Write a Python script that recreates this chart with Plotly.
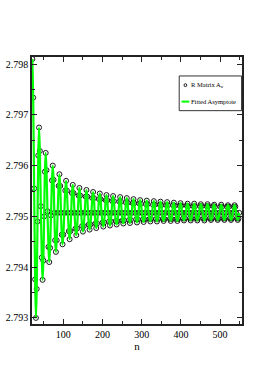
import plotly.graph_objects as go

# ---- data (8 samples per oscillation) ----
# peaks
peak_n = [21, 38, 55, 73, 90, 107, 124, 141, 159, 176, 193, 210, 227, 245, 262, 279,
          296, 313, 331, 348, 365, 382, 399, 417, 434, 451, 468, 485, 503, 520, 537]
peak_a = [2.7981, 2.79675, 2.79625, 2.7960, 2.79583, 2.7957, 2.79562, 2.79556, 2.79552,
          2.79548, 2.79545, 2.79542, 2.7954, 2.79538, 2.79536, 2.79534, 2.79532, 2.79531,
          2.7953, 2.79529, 2.79528, 2.79527, 2.79526, 2.79525, 2.79525, 2.79524, 2.79524,
          2.79523, 2.79523, 2.79522, 2.79522]
# upper shoulder on the way down
sd1_n = [23, 40, 57, 75, 92, 109, 126, 143, 161, 178, 195, 212, 229, 247, 264, 281,
         298, 315, 333, 350, 367, 384, 401, 419, 436, 453, 470, 487, 505, 522, 539]
sd1_a = [2.79734, 2.79629, 2.79591, 2.79572, 2.7956, 2.79551, 2.79546, 2.79541, 2.79539,
         2.79536, 2.79534, 2.79532, 2.7953, 2.79529, 2.79527, 2.79526, 2.79525, 2.79524,
         2.79523, 2.79522, 2.79522, 2.79521, 2.79521, 2.7952, 2.7952, 2.7952, 2.7952,
         2.79519, 2.79519, 2.79519, 2.79519]
# crossing on the way down
cd_n = [25.5, 42.5, 59.5, 77, 94, 111.5, 128.5, 145.5, 163, 180, 197.5, 214.5, 231.5, 249,
        266, 283.5, 300.5, 317.5, 335, 352, 369.5, 386.5, 403.5, 421, 438, 455.5, 472.5,
        489.5, 507, 524, 541]
cd_a = [2.79555, 2.7952, 2.7951, 2.79507, 2.79507, 2.79507, 2.79507, 2.79507, 2.79507,
        2.79507, 2.79507, 2.79507, 2.79507, 2.79507, 2.79507, 2.79507, 2.79507, 2.79507,
        2.79507, 2.79507, 2.79507, 2.79507, 2.79507, 2.79507, 2.79507, 2.79507, 2.79507,
        2.79507, 2.79507, 2.79507, 2.79507]
# lower shoulder on the way down
sd2_n = [28, 45, 62, 79, 96, 114, 131, 148, 165, 182, 200, 217, 234, 251, 268, 286,
         303, 320, 337, 354, 372, 389, 406, 423, 440, 458, 475, 492, 509, 526, 543]
sd2_a = [2.79376, 2.79419, 2.7944, 2.79453, 2.79464, 2.79471, 2.79476, 2.79481, 2.79484,
         2.79486, 2.79488, 2.7949, 2.79491, 2.79492, 2.79493, 2.79494, 2.79494, 2.79495,
         2.79495, 2.79495, 2.79495, 2.79495, 2.79496, 2.79496, 2.79496, 2.79496, 2.79496,
         2.79496, 2.79496, 2.79496, 2.79496]
# troughs
trough_n = [30, 47, 64, 81, 98, 116, 133, 150, 167, 184, 202, 219, 236, 253, 270, 288,
            305, 322, 339, 356, 374, 391, 408, 425, 442, 460, 477, 494, 511, 528, 545]
trough_a = [2.7930, 2.79375, 2.7941, 2.7943, 2.79445, 2.79455, 2.79463, 2.7947, 2.79474,
            2.79477, 2.7948, 2.79482, 2.79484, 2.79486, 2.79487, 2.79488, 2.79489, 2.7949,
            2.7949, 2.79491, 2.79491, 2.79491, 2.79492, 2.79492, 2.79492, 2.79492, 2.79493,
            2.79493, 2.79493, 2.79493, 2.79493]
# lower shoulder on the way up
su1_n = [32, 49, 66, 83, 100, 118, 135, 152, 169, 186, 204, 221, 238, 255, 272, 290,
         307, 324, 341, 358, 376, 393, 410, 427, 444, 462, 479, 496, 513, 530, 547]
su1_a = [2.79357, 2.79413, 2.79438, 2.79453, 2.79464, 2.79471, 2.79476, 2.79481, 2.79484,
         2.79486, 2.79488, 2.7949, 2.79491, 2.79492, 2.79493, 2.79494, 2.79494, 2.79495,
         2.79495, 2.79495, 2.79495, 2.79495, 2.79496, 2.79496, 2.79496, 2.79496, 2.79496,
         2.79496, 2.79496, 2.79496, 2.79496]
# crossing on the way up
cu_n = [34, 51, 68.5, 85.5, 102.5, 120, 137, 154.5, 171.5, 188.5, 206, 223, 240.5, 257.5,
        274.5, 292, 309, 326.5, 343.5, 360.5, 378, 395, 412.5, 429.5, 446.5, 464, 481,
        498.5, 515.5, 532.5, 549]
cu_a = [2.7949, 2.7950, 2.79502, 2.79507, 2.79507, 2.79507, 2.79507, 2.79507, 2.79507,
        2.79507, 2.79507, 2.79507, 2.79507, 2.79507, 2.79507, 2.79507, 2.79507, 2.79507,
        2.79507, 2.79507, 2.79507, 2.79507, 2.79507, 2.79507, 2.79507, 2.79507, 2.79507,
        2.79507, 2.79507, 2.79507, 2.79507]
# upper shoulder on the way up
su2_n = [36, 53, 71, 88, 105, 122, 139, 157, 174, 191, 208, 225, 243, 260, 277, 294,
         311, 329, 346, 363, 380, 397, 415, 432, 449, 466, 483, 501, 518, 535]
su2_a = [2.7962, 2.79588, 2.79571, 2.7956, 2.79551, 2.79546, 2.79541, 2.79539, 2.79536,
         2.79534, 2.79532, 2.7953, 2.79529, 2.79527, 2.79526, 2.79525, 2.79524, 2.79523,
         2.79523, 2.79522, 2.79522, 2.79521, 2.79521, 2.7952, 2.7952, 2.7952, 2.7952,
         2.79519, 2.79519, 2.79519]

x_ticks = [100, 200, 300, 400, 500]
y_ticks = [2.793, 2.794, 2.795, 2.796, 2.797, 2.798]

all_n = peak_n + sd1_n + cd_n + sd2_n + trough_n + su1_n + cu_n + su2_n
all_a = peak_a + sd1_a + cd_a + sd2_a + trough_a + su1_a + cu_a + su2_a
pts = sorted(zip(all_n, all_a))
n_vals = [p[0] for p in pts]
a_vals = [p[1] for p in pts]

FONT = "Liberation Serif, Times New Roman, serif"

fig = go.Figure()
fig.add_trace(go.Scatter(x=n_vals, y=a_vals, mode="markers", name="R Matrix A<sub>n</sub>",
                         marker=dict(symbol="circle-open", size=5, color="#1a1a1a",
                                     line=dict(width=1, color="#1a1a1a")),
                         showlegend=False))
fig.add_trace(go.Scatter(x=n_vals, y=a_vals, mode="lines", name="Fitted Asymptote",
                         line=dict(color="#00ff00", width=2.2, shape="spline", smoothing=1.0),
                         showlegend=False))

axis_common = dict(showline=True, linecolor="#222", linewidth=1.5, mirror="ticks",
                   ticks="inside", ticklen=5, tickcolor="#222", tickwidth=1,
                   showgrid=False, zeroline=False, automargin=False,
                   tickfont=dict(family=FONT, size=10, color="black"))

fig.update_xaxes(range=[20, 556], tickvals=x_ticks,
                 minor=dict(dtick=50, tick0=0, ticks="inside", ticklen=3, tickcolor="#222"),
                 title=dict(text="n", font=dict(family=FONT, size=11, color="black"), standoff=0),
                 **axis_common)
fig.update_yaxes(range=[2.79288, 2.79814], tickvals=y_ticks,
                 ticktext=[f"{v:.3f}" for v in y_ticks],
                 minor=dict(dtick=0.0005, tick0=2.793, ticks="inside", ticklen=3, tickcolor="#222"),
                 ticklabelstandoff=0,
                 **axis_common)

# compact legend box
shapes = [
    dict(type="rect", xref="paper", yref="paper", x0=0.701, x1=0.998, y0=0.799, y1=0.929,
         line=dict(color="#333", width=1), fillcolor="white", layer="above"),
    dict(type="line", xref="paper", yref="paper", x0=0.712, x1=0.749, y0=0.833, y1=0.833,
         line=dict(color="#00ff00", width=2), layer="above"),
    dict(type="circle", xref="paper", yref="paper", x0=0.724, x1=0.737, y0=0.889, y1=0.900,
         line=dict(color="#1a1a1a", width=1), layer="above"),
]
annotations = [
    dict(xref="paper", yref="paper", x=0.752, y=0.895, xanchor="left", yanchor="middle",
         text="R Matrix A<sub>n</sub>", showarrow=False, borderpad=0,
         font=dict(family=FONT, size=6.5, color="black")),
    dict(xref="paper", yref="paper", x=0.752, y=0.833, xanchor="left", yanchor="middle",
         text="Fitted Asymptote", showarrow=False, borderpad=0,
         font=dict(family=FONT, size=6.5, color="black")),
]

fig.update_layout(width=273, height=382, margin=dict(l=32, r=31, t=57, b=58),
                  paper_bgcolor="white", plot_bgcolor="white",
                  shapes=shapes, annotations=annotations, showlegend=False)

fig.write_html("out.html", config={"displayModeBar": False},
               post_script="document.body.style.margin='0px';")
